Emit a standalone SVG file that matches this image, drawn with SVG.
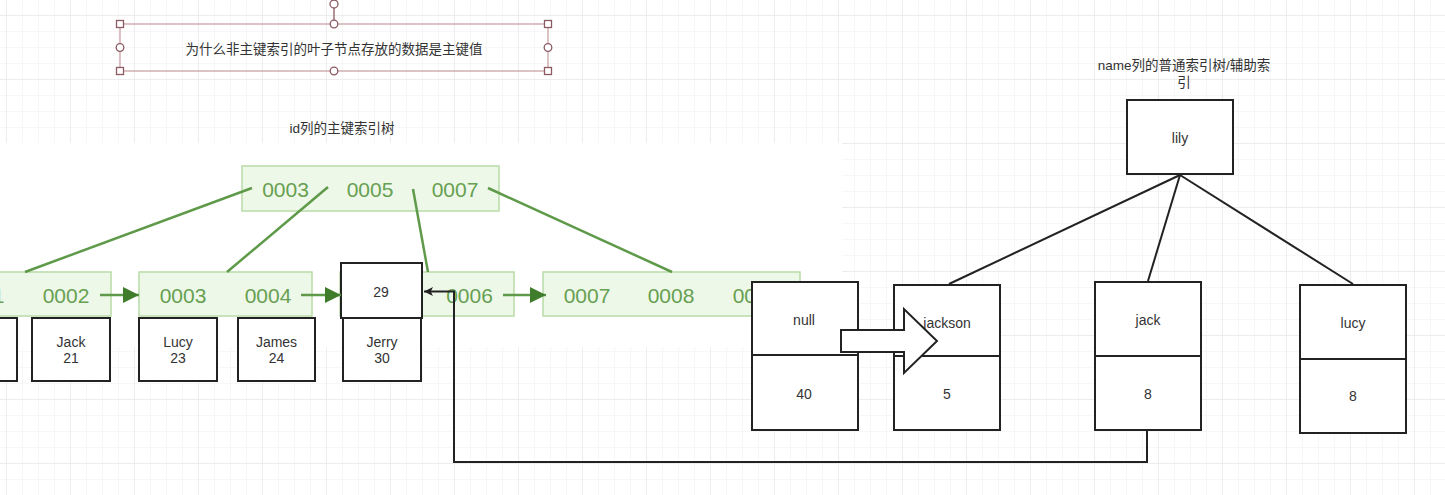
<svg xmlns="http://www.w3.org/2000/svg" width="1445" height="495" viewBox="0 0 1445 495">
<defs>
<pattern id="gridMinor" patternUnits="userSpaceOnUse" x="6" y="15" width="16" height="16">
<path d="M0 0H16M0 0V16" fill="none" stroke="#efefef" stroke-width="1"/>
</pattern>
<pattern id="gridMajor" patternUnits="userSpaceOnUse" x="6" y="15" width="64" height="64">
<path d="M0 0H64M0 0V64" fill="none" stroke="#e4e4e4" stroke-width="1"/>
</pattern>
<marker id="greenHead" viewBox="0 0 10 10" refX="10" refY="5" markerWidth="16" markerHeight="16" markerUnits="userSpaceOnUse" orient="auto">
<path d="M0 0L10 5L0 10Z" fill="#3f7d2c"/>
</marker>
<marker id="blackHead" viewBox="0 0 10 10" refX="10" refY="5" markerWidth="12" markerHeight="9" markerUnits="userSpaceOnUse" orient="auto">
<path d="M0 0L10 5L0 10L2.5 5Z" fill="#222"/>
</marker>
<style>
.t{font-family:"Liberation Sans","Noto Sans CJK SC",sans-serif;fill:#333;text-anchor:middle}
.s13{font-size:13.5px}
.s14{font-size:14px}
.g{font-family:"Liberation Sans",Arial,sans-serif;font-size:21px;fill:#67a052;text-anchor:middle}
.leaf{fill:#eef8e8;stroke:#b8dca8;stroke-width:1.5}
.box{fill:#fff;stroke:#222;stroke-width:2}
.gl{stroke:#5f9a4a;stroke-width:2.5;fill:none}
.bl{stroke:#222;stroke-width:2;fill:none}
.hs{fill:#fff;stroke:#8c5a62;stroke-width:1.3}
</style>
</defs>
<rect x="0" y="0" width="1445" height="495" fill="#fff"/>
<rect x="0" y="0" width="1445" height="495" fill="url(#gridMinor)"/>
<rect x="0" y="0" width="1445" height="495" fill="url(#gridMajor)"/>
<rect x="0" y="143" width="842" height="204" fill="#fff"/>

<g id="question">
<rect x="120" y="24" width="428" height="47" fill="none" stroke="#c9a3a8" stroke-width="1.3"/>
<line x1="334" y1="7" x2="334" y2="24" stroke="#8c5a62" stroke-width="1.3"/>
<circle cx="334" cy="4" r="4" class="hs"/>
<rect x="116.5" y="20.5" width="7" height="7" class="hs"/>
<rect x="544.5" y="20.5" width="7" height="7" class="hs"/>
<rect x="116.5" y="67.5" width="7" height="7" class="hs"/>
<rect x="544.5" y="67.5" width="7" height="7" class="hs"/>
<circle cx="334" cy="24" r="3.8" class="hs"/>
<circle cx="334" cy="71" r="3.8" class="hs"/>
<circle cx="120" cy="47.5" r="3.8" class="hs"/>
<circle cx="548" cy="47.5" r="3.8" class="hs"/>
<text x="334" y="53.5" class="t s13">为什么非主键索引的叶子节点存放的数据是主键值</text>
</g>

<g id="title-id">
<text x="342" y="133" class="t s13">id列的主键索引树</text>
</g>
<g id="title-name">
<text x="1184" y="70" class="t s13">name列的普通索引树/辅助索</text>
<text x="1184" y="87" class="t s13">引</text>
</g>

<g id="root-node">
<rect x="242" y="166" width="257" height="45" class="leaf"/>
<text x="285.5" y="197" class="g">0003</text>
<text x="370" y="197" class="g">0005</text>
<text x="455" y="197" class="g">0007</text>
</g>
<g id="leaf-1">
<rect x="-20" y="272" width="131" height="44" class="leaf"/>
<text x="-19" y="303" class="g">0001</text>
<text x="66" y="303" class="g">0002</text>
</g>
<g id="leaf-2">
<rect x="139" y="272" width="173" height="44" class="leaf"/>
<text x="183" y="303" class="g">0003</text>
<text x="268" y="303" class="g">0004</text>
</g>
<g id="leaf-3">
<rect x="340" y="272" width="174" height="44" class="leaf"/>
<text x="469.5" y="303" class="g">0006</text>
</g>
<g id="leaf-4">
<rect x="543" y="272" width="257" height="44" class="leaf"/>
<text x="587" y="303" class="g">0007</text>
<text x="671" y="303" class="g">0008</text>
<text x="756" y="303" class="g">0009</text>
</g>

<g id="row-1">
<rect x="-30" y="318" width="47" height="63" class="box"/>
</g>
<g id="row-jack">
<rect x="32" y="318" width="78" height="63" class="box"/>
<text x="71" y="347" class="t s14">Jack</text>
<text x="71" y="363" class="t s14">21</text>
</g>
<g id="row-lucy">
<rect x="139" y="318" width="78" height="63" class="box"/>
<text x="178" y="347" class="t s14">Lucy</text>
<text x="178" y="363" class="t s14">23</text>
</g>
<g id="row-james">
<rect x="238" y="318" width="77" height="63" class="box"/>
<text x="276.5" y="347" class="t s14">James</text>
<text x="276.5" y="363" class="t s14">24</text>
</g>
<g id="row-29">
<rect x="341" y="263" width="81" height="55" class="box"/>
<text x="381" y="297" class="t s14">29</text>
</g>
<g id="row-jerry">
<rect x="343" y="318" width="78" height="63" class="box"/>
<text x="382" y="347" class="t s14">Jerry</text>
<text x="382" y="363" class="t s14">30</text>
</g>

<g id="node-lily">
<rect x="1127" y="100" width="106" height="74" class="box"/>
<text x="1180" y="143" class="t s14">lily</text>
</g>
<g id="node-null">
<rect x="752" y="282" width="106" height="148" class="box"/>
<line x1="752" y1="355" x2="858" y2="355" class="bl"/>
<text x="804" y="325" class="t s14">null</text>
<text x="804" y="399" class="t s14">40</text>
</g>
<g id="node-jackson">
<rect x="894" y="285" width="106" height="145" class="box"/>
<line x1="894" y1="356" x2="1000" y2="356" class="bl"/>
<text x="947" y="328" class="t s14">jackson</text>
<text x="947" y="399" class="t s14">5</text>
</g>
<g id="node-jack">
<rect x="1095" y="282" width="106" height="148" class="box"/>
<line x1="1095" y1="356" x2="1201" y2="356" class="bl"/>
<text x="1148" y="325" class="t s14">jack</text>
<text x="1148" y="399" class="t s14">8</text>
</g>
<g id="node-lucy">
<rect x="1300" y="285" width="106" height="148" class="box"/>
<line x1="1300" y1="359" x2="1406" y2="359" class="bl"/>
<text x="1353" y="328" class="t s14">lucy</text>
<text x="1353" y="401" class="t s14">8</text>
</g>

<g id="block-arrow">
<path d="M841 330H904V309L937 341L904 373V352H841Z" fill="#fff" stroke="#222" stroke-width="2" stroke-linejoin="miter"/>
</g>

<g id="connectors">
<line x1="252" y1="188" x2="25" y2="272" class="gl"/>
<line x1="328" y1="187" x2="227" y2="272" class="gl"/>
<line x1="413" y1="189" x2="428" y2="272" class="gl"/>
<line x1="488" y1="188" x2="672" y2="272" class="gl"/>
<line x1="100" y1="295" x2="139" y2="295" class="gl" marker-end="url(#greenHead)"/>
<line x1="301" y1="295" x2="341" y2="295" class="gl" marker-end="url(#greenHead)"/>
<line x1="503" y1="295" x2="546" y2="295" class="gl" marker-end="url(#greenHead)"/>
<line x1="1180" y1="175" x2="949" y2="284" class="bl"/>
<line x1="1180" y1="175" x2="1148" y2="281" class="bl"/>
<line x1="1180" y1="175" x2="1353" y2="284" class="bl"/>
<path d="M1147 431V462H454V291.5H424" class="bl" marker-end="url(#blackHead)"/>
</g>
</svg>
